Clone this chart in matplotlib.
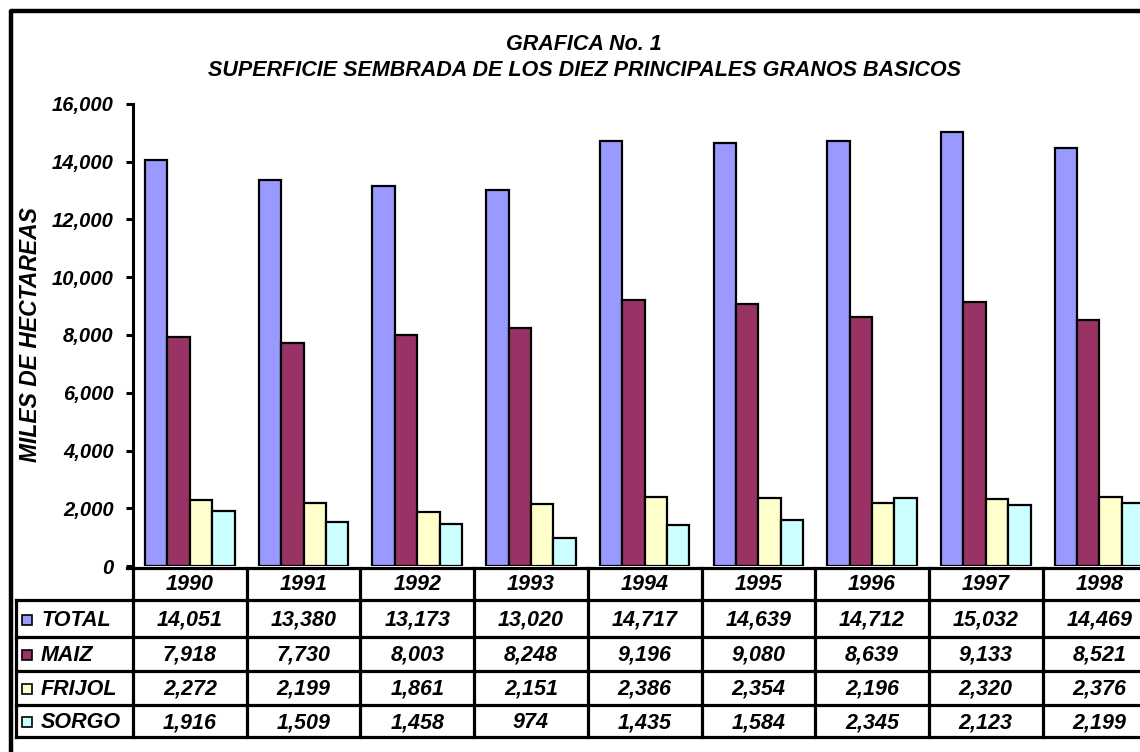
import matplotlib
matplotlib.use("Agg")
import matplotlib.pyplot as plt
from matplotlib.patches import Rectangle

# ── data ─────────────────────────────────────────────────────────────────────
years = ["1990", "1991", "1992", "1993", "1994", "1995", "1996", "1997", "1998"]
series_names = ["TOTAL", "MAIZ", "FRIJOL", "SORGO"]
total = [14051, 13380, 13173, 13020, 14717, 14639, 14712, 15032, 14469]
maiz = [7918, 7730, 8003, 8248, 9196, 9080, 8639, 9133, 8521]
frijol = [2272, 2199, 1861, 2151, 2386, 2354, 2196, 2320, 2376]
sorgo = [1916, 1509, 1458, 974, 1435, 1584, 2345, 2123, 2199]
yticks = [0, 2000, 4000, 6000, 8000, 10000, 12000, 14000, 16000]

title_1 = "GRAFICA No. 1"
title_2 = "SUPERFICIE SEMBRADA DE LOS DIEZ PRINCIPALES GRANOS BASICOS"
ylabel = "MILES DE HECTAREAS"

# ── style ────────────────────────────────────────────────────────────────────
colors = ["#9999FF", "#993366", "#FFFFCC", "#CCFFFF"]
FONT = dict(family="Liberation Sans", weight="bold", style="italic")
FS = 15.5
W, H = 1140, 752

fig = plt.figure(figsize=(W / 100, H / 100), dpi=100)

# pixel layout of plot area (extends past right edge like the original)
x0, col_w = 133, 113.7
y_top, y_zero = 104, 566
ax = fig.add_axes([x0 / W, 1 - y_zero / H, col_w * len(years) / W, (y_zero - y_top) / H])

series = [total, maiz, frijol, sorgo]
bw = 0.197
for k, vals in enumerate(series):
    xs = [i + 0.5 + (k - 1.5) * bw for i in range(len(years))]
    ax.bar(xs, vals, width=bw, color=colors[k], edgecolor="black", linewidth=1.6, zorder=3)

ax.set_xlim(0, len(years))
ax.set_ylim(0, 16000)
ax.set_yticks(yticks)
ax.set_yticklabels([f"{v:,}" for v in yticks], fontsize=14.5, **FONT)
ax.set_xticks([])
for s in ["top", "right", "bottom"]:
    ax.spines[s].set_visible(False)
ax.spines["left"].set_linewidth(2.2)
ax.tick_params(axis="y", length=5, width=2.2, pad=9)
ax.set_ylabel(ylabel, fontsize=16.5, **FONT)
ax.yaxis.set_label_coords(-(x0 - 31) / (col_w * len(years)), 0.5)
ax.yaxis.label.set_va("center")

fig.text(584 / W, 1 - 44 / H, title_1, ha="center", va="center", fontsize=FS, **FONT)
fig.text(584 / W, 1 - 71 / H, title_2, ha="center", va="center", fontsize=FS, **FONT)

# ── data table drawn in pixel coordinates ────────────────────────────────────
tax = fig.add_axes([0, 0, 1, 1])
tax.set_xlim(0, W)
tax.set_ylim(H, 0)
tax.axis("off")

lw = 2.3
row_edges = [568, 600, 637, 671, 705, 737]
col_edges = [x0 + col_w * i for i in range(len(years) + 1)]
right = col_edges[-1] + 20

tax.plot([127, right], [row_edges[0]] * 2, color="black", lw=lw)
for y in row_edges[1:]:
    tax.plot([16, right], [y, y], color="black", lw=lw)
tax.plot([16, 16], [row_edges[1], row_edges[-1]], color="black", lw=lw)
for x in col_edges:
    tax.plot([x, x], [row_edges[0], row_edges[-1]], color="black", lw=lw)

for i, yr in enumerate(years):
    cx = col_edges[i] + col_w / 2
    tax.text(cx, (row_edges[0] + row_edges[1]) / 2 + 1, yr, ha="center", va="center",
             fontsize=FS, **FONT)
    for k, vals in enumerate(series):
        cy = (row_edges[k + 1] + row_edges[k + 2]) / 2 + 1.5
        tax.text(cx, cy, f"{vals[i]:,}", ha="center", va="center", fontsize=FS, **FONT)

for k, name in enumerate(series_names):
    cy = (row_edges[k + 1] + row_edges[k + 2]) / 2
    tax.add_patch(Rectangle((22, cy - 4), 10, 10, facecolor=colors[k],
                            edgecolor="black", linewidth=1.2))
    tax.text(41, cy + 1.5, name, ha="left", va="center", fontsize=FS, **FONT)

# outer chart border
tax.plot([11, 11, W + 10], [H + 10, 11, 11], color="black", lw=3.2)

fig.savefig("out.png", dpi=100)
